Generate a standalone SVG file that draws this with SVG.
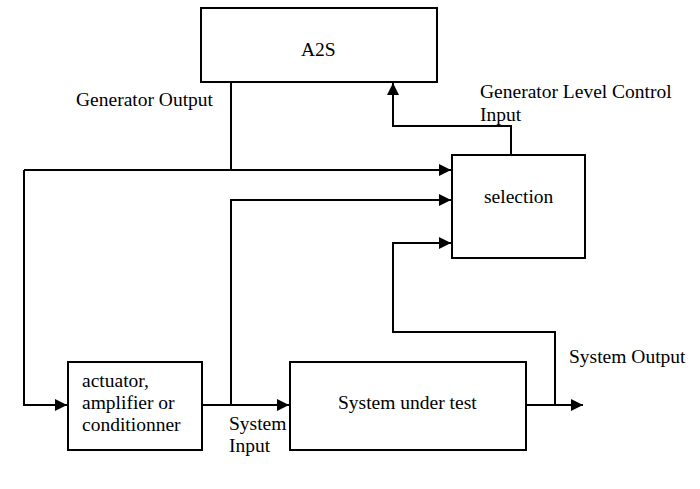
<svg xmlns="http://www.w3.org/2000/svg" width="700" height="489" viewBox="0 0 700 489">
<defs>
<marker id="ah" viewBox="0 0 10 10" refX="10" refY="5" markerWidth="12" markerHeight="12" markerUnits="userSpaceOnUse" orient="auto">
<path d="M0,0 L10,5 L0,10 Z" fill="#000"/>
</marker>
</defs>
<style>
.box{fill:#fff;stroke:#000;stroke-width:2}
.ln{fill:none;stroke:#000;stroke-width:2}
</style>
<rect width="700" height="489" fill="#fff"/>
<g id="connectors">
<polyline class="ln" points="231,82 231,170"/>
<polyline class="ln" points="24,170 451,170" marker-end="url(#ah)"/>
<polyline class="ln" points="24,170 24,405 67,405" marker-end="url(#ah)"/>
<polyline class="ln" points="202,405 289,405" marker-end="url(#ah)"/>
<polyline class="ln" points="231,405 231,200 451,200" marker-end="url(#ah)"/>
<polyline class="ln" points="511,155 511,126 393,126 393,83" marker-end="url(#ah)"/>
<polyline class="ln" points="526,405 583,405" marker-end="url(#ah)"/>
<polyline class="ln" points="555,405 555,332 393,332 393,243 451,243" marker-end="url(#ah)"/>
</g>
<g font-family="Liberation Serif, Times New Roman, serif" font-size="19.5" fill="#000">
<g id="a2s">
<rect class="box" x="201" y="8" width="236" height="74"/>
<text x="301" y="56">A2S</text>
</g>
<g id="selection">
<rect class="box" x="452" y="155" width="133" height="103"/>
<text x="484" y="203">selection</text>
</g>
<g id="actuator">
<rect class="box" x="68" y="362" width="134" height="88"/>
<text x="82" y="387">actuator,</text>
<text x="82" y="409">amplifier or</text>
<text x="82" y="431">conditionner</text>
</g>
<g id="sut">
<rect class="box" x="290" y="362" width="236" height="88"/>
<text x="338" y="409">System under test</text>
</g>
<g id="labels">
<text x="76" y="106">Generator Output</text>
<text x="480" y="98">Generator Level Control</text>
<text x="480" y="121">Input</text>
<text x="229" y="430">System</text>
<text x="229" y="452">Input</text>
<text x="569" y="363">System Output</text>
</g>
</g>
</svg>
